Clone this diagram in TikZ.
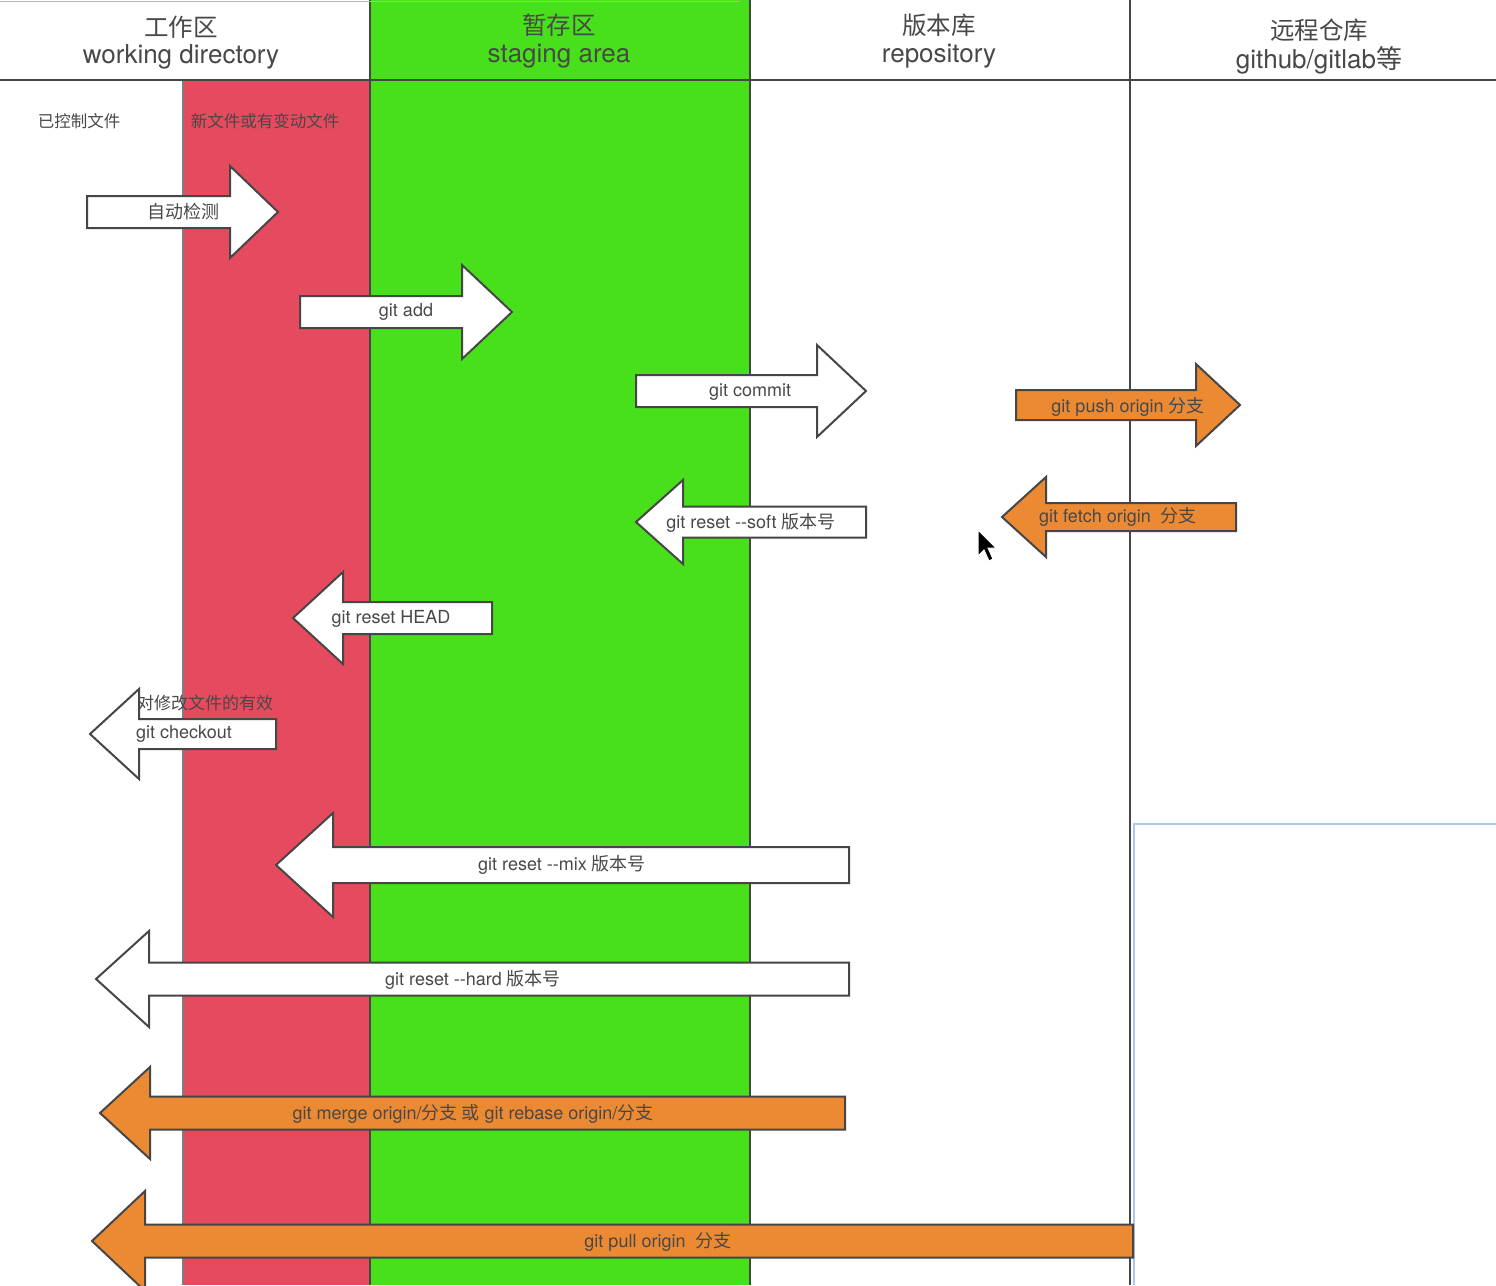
\documentclass[tikz,border=0pt]{standalone}
\usepackage{fontspec}
\setmainfont{TeX Gyre Heros}
\newfontfamily\cjk{Noto Sans CJK SC}
\definecolor{redcol}{RGB}{230,74,94}
\definecolor{greencol}{RGB}{72,224,26}
\definecolor{orangecol}{RGB}{236,138,52}
\definecolor{edge}{RGB}{70,70,70}
\definecolor{txt}{RGB}{72,72,72}
\definecolor{artblue}{RGB}{170,200,240}
\newcommand{\blockarrow}[7]{%
  \path[#1] ({#2},{#5-#6}) -- ({#3},{#5-#6}) -- ({#3},{#5-#7}) -- ({#4},{#5})
    -- ({#3},{#5+#7}) -- ({#3},{#5+#6}) -- ({#2},{#5+#6}) -- cycle;}
\newcommand{\zh}[1]{{\cjk #1}}
\tikzset{
  whitearrow/.style={fill=white, draw=edge, line width=2pt, line join=miter},
  orangearrow/.style={fill=orangecol, draw=edge, line width=2pt, line join=miter},
  head/.style={text=txt, font=\fontsize{24.5}{28}\selectfont\cjk, inner sep=0pt},
  sub/.style={text=txt, font=\fontsize{26}{29}\selectfont, inner sep=0pt},
  colnote/.style={text=txt, font=\fontsize{16.5}{19}\selectfont\cjk, inner sep=0pt},
  lbl/.style={text=txt, font=\fontsize{18}{20}\selectfont, inner sep=0pt},
  divider/.style={draw=edge, line width=2.5pt},
}
\begin{document}
\begin{tikzpicture}[x=1pt, y=-1pt]
\useasboundingbox (0,0) rectangle (1496,1285);
\clip (0,0) rectangle (1496,1285);
\fill[white] (0,0) rectangle (1496,1285);
% columns
\fill[redcol] (183,80) rectangle (370,1285);
\draw[edge!70, line width=1.5pt] (183,80) -- (183,1285);
\fill[greencol] (370,0) rectangle (750,1285);
% artifacts
\draw[artblue, line width=2pt] (1133,824) -- (1496,824);
\draw[artblue, line width=2pt] (1134,824) -- (1134,1285);
% dividers
\draw[divider] (0,80) -- (1496,80);
\draw[divider] (370,0) -- (370,1285);
\draw[divider] (750,0) -- (750,1285);
\draw[divider] (1130,0) -- (1130,1285);
\draw[edge!40, line width=1pt] (0,1) -- (740,1);
% headers
\node[head] (h1a) at (181,27) {工作区};
\node[sub]  (h1b) at (181,57) {working directory};
\node[head] (h2a) at (559,25) {暂存区};
\node[sub]  (h2b) at (559,56) {staging area};
\node[head] (h3a) at (939,25) {版本库};
\node[sub]  (h3b) at (939,56) {repository};
\node[head] (h4a) at (1319,30) {远程仓库};
\node[sub]  (h4b) at (1319,60) {github/gitlab\zh{等}};
\node[colnote] (n1) at (79,121) {已控制文件};
\node[colnote] (n2) at (265,121) {新文件或有变动文件};
% arrows
\blockarrow{whitearrow}{87}{230}{278}{212}{16}{46}
\node[lbl] (a1) at (183,212) {\zh{自动检测}};
\blockarrow{whitearrow}{300}{462}{512}{312}{16}{47}
\node[lbl] (a2) at (406,312) {git add};
\blockarrow{whitearrow}{636}{817}{866}{391}{16}{46}
\node[lbl] (a3) at (750,392) {git commit};
\blockarrow{orangearrow}{1016}{1196}{1240}{405}{15}{41}
\node[lbl] (a4) at (1128,407) {git push origin \zh{分支}};
\blockarrow{whitearrow}{866}{683}{636}{522}{15.5}{42}
\node[lbl] (a5) at (751,523) {git reset -{}-soft \zh{版本号}};
\blockarrow{orangearrow}{1236}{1046}{1002}{517}{14}{40}
\node[lbl] (a6) at (1118,517) {git fetch origin\ \ \zh{分支}};
\blockarrow{whitearrow}{492}{343}{293}{618}{16}{46}
\node[lbl] (a7) at (391,619) {git reset HEAD};
\blockarrow{whitearrow}{276}{139}{90}{734}{15}{45}
\node[lbl] (a8) at (184,734) {git checkout};
\node[colnote, font=\fontsize{17}{19}\selectfont\cjk, anchor=west] (a8n) at (137,703) {对修改文件的有效};
\blockarrow{whitearrow}{849}{333}{276}{865}{18}{52}
\node[lbl] (a9) at (562,865) {git reset -{}-mix \zh{版本号}};
\blockarrow{whitearrow}{849}{149}{96}{979}{16.5}{48}
\node[lbl] (a10) at (473,980) {git reset -{}-hard \zh{版本号}};
\blockarrow{orangearrow}{845}{150}{100}{1113}{16.5}{46}
\node[lbl] (a11) at (473,1114) {git merge origin/\zh{分支 或} git rebase origin/\zh{分支}};
\blockarrow{orangearrow}{1133}{145}{92}{1241}{16.5}{50}
\node[lbl] (a12) at (658,1242) {git pull origin\ \ \zh{分支}};
% mouse cursor
\path[fill=black, draw=white, line width=1pt] (978,530) -- (978,556) -- (984,550) -- (989,561) -- (993,559) -- (988,548) -- (996,548) -- cycle;
\end{tikzpicture}
\end{document}
